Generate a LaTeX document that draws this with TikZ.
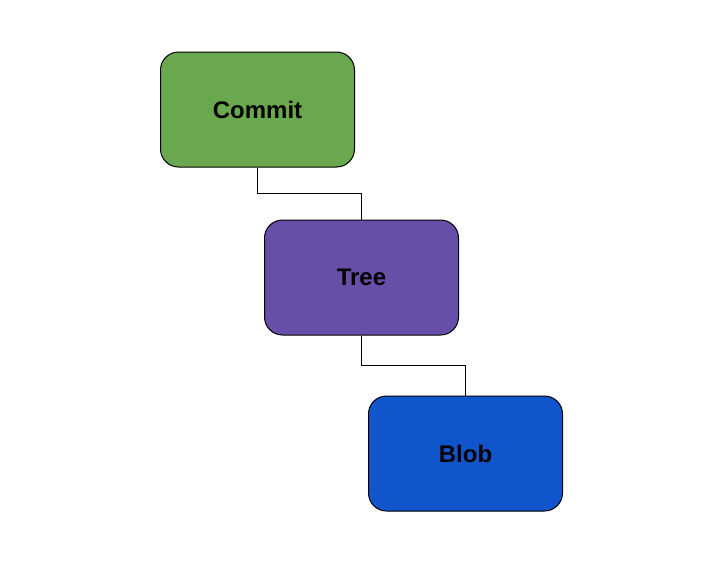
\documentclass[tikz,border=0pt]{standalone}
\usepackage{fontspec}
\setmainfont{Liberation Sans}
\usetikzlibrary{positioning,calc}
\definecolor{commitgreen}{HTML}{6AA84F}
\definecolor{treepurple}{HTML}{674EA7}
\definecolor{blobblue}{HTML}{1155CC}
\tikzset{
  objbox/.style={
    draw=black,
    line width=1pt,
    rounded corners=18pt,
    align=center,
    minimum width=194pt,
    minimum height=115pt,
    inner sep=0pt,
    font=\fontsize{24}{28}\selectfont\bfseries
  },
  linkline/.style={
    draw=black,
    line width=1pt
  }
}
\begin{document}
\begin{tikzpicture}
  \useasboundingbox[fill=white] (0,0) rectangle (723pt,-562pt);
  \node[objbox, fill=commitgreen] (commit) at (257.5pt,-109.5pt) {Commit};
  \node[objbox, fill=treepurple, below=52pt of commit, xshift=104pt] (tree) {Tree};
  \node[objbox, fill=blobblue, below=60pt of tree, xshift=104pt] (blob) {Blob};
  \draw[linkline] (commit.south) |- ($(commit.south)!.5!(tree.north)$) -| (tree.north);
  \draw[linkline] (tree.south) |- ($(tree.south)!.5!(blob.north)$) -| (blob.north);
\end{tikzpicture}
\end{document}
